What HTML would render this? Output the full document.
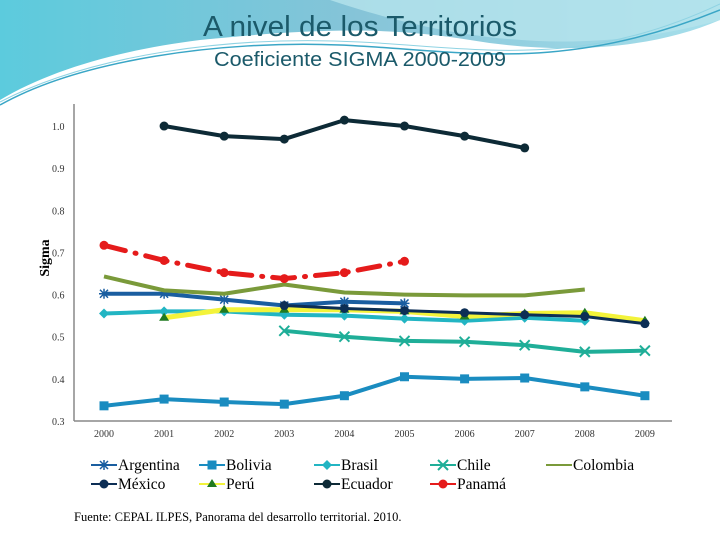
<!DOCTYPE html>
<html><head><meta charset="utf-8"><style>
body{margin:0;width:720px;height:540px;overflow:hidden;background:#fff;font-family:"Liberation Serif",serif}
svg{display:block}
</style></head><body>
<svg id="c" width="720" height="540">
<defs>
<linearGradient id="g1" x1="0" y1="0" x2="1" y2="0"><stop offset="0" stop-color="#5ccbdd"/><stop offset="0.5" stop-color="#86c4d8"/><stop offset="1" stop-color="#a6dfeb"/></linearGradient>
</defs>
<g>
<path d="M0,0 H720 V20 C650,50 560,55 470,40 C380,25 300,30 200,40 C120,50 50,70 0,100 Z" fill="url(#g1)"/>
<path d="M330,0 C420,30 560,65 720,20 V0 Z" fill="#b5e3ec" opacity="0.8"/>
<path d="M0,105 C80,60 220,40 340,45 C460,50 560,75 720,10" fill="none" stroke="#3aa6c6" stroke-width="1.5"/>
<path d="M0,102 C90,55 230,35 360,42 C480,48 580,70 720,4" fill="none" stroke="#8fd3e3" stroke-width="1"/>
</g>
<text x="360" y="36" text-anchor="middle" font-family="Liberation Sans, sans-serif" font-size="29" textLength="314" lengthAdjust="spacingAndGlyphs" fill="#1b5a6a">A nivel de los Territorios</text>
<text x="360" y="66" text-anchor="middle" font-family="Liberation Sans, sans-serif" font-size="20" textLength="292" lengthAdjust="spacingAndGlyphs" fill="#1b5a6a">Coeficiente SIGMA 2000-2009</text>
<line x1="74" y1="104" x2="74" y2="421" stroke="#888" stroke-width="1.5"/>
<line x1="74" y1="421" x2="672" y2="421" stroke="#888" stroke-width="1.5"/>
<text transform="translate(49,258) rotate(-90)" text-anchor="middle" font-size="14" font-weight="bold" fill="#000">Sigma</text>
<g id="yt"></g><g id="xt"></g><g id="series"></g><g id="legend"></g>
<text x="74" y="521" font-size="12.5" fill="#000">Fuente: CEPAL ILPES, Panorama del desarrollo territorial. 2010.</text>
</svg>
<script>
const years=[2000,2001,2002,2003,2004,2005,2006,2007,2008,2009];
const yTicks=[0.3,0.4,0.5,0.6,0.7,0.8,0.9,1.0];
const argentina=[0.602,0.602,0.588,0.574,0.583,0.579,null,null,null,null];
const bolivia=[0.336,0.352,0.345,0.340,0.360,0.405,0.400,0.402,0.381,0.360];
const brasil=[0.555,0.560,0.560,0.552,0.550,0.543,0.538,0.545,0.538,null];
const chile=[null,null,null,0.514,0.500,0.490,0.488,0.480,0.464,0.467];
const colombia=[0.643,0.610,0.602,0.624,0.605,0.600,0.598,0.598,0.612,null];
const mexico=[null,null,null,0.574,0.567,0.562,0.557,0.552,0.548,0.531];
const peru=[null,0.545,0.564,0.564,0.564,0.560,0.548,0.555,0.557,0.538];
const ecuador=[null,1.000,0.976,0.969,1.014,1.000,0.976,0.948,null,null];
const panama=[0.717,0.681,0.652,0.638,0.652,0.679,null,null,null,null];
const NS='http://www.w3.org/2000/svg';
const X=i=>104+i*60.1, Y=v=>421-(v-0.3)*421.4;
function mk(t,a,p){const e=document.createElementNS(NS,t);for(const k in a)e.setAttribute(k,a[k]);(p||document.getElementById('series')).appendChild(e);return e;}
const yt=document.getElementById('yt');
yTicks.forEach(v=>{const t=mk('text',{x:52,y:Y(v)+4,'font-size':10,fill:'#333'},yt);t.textContent=v.toFixed(1);

});
const xt=document.getElementById('xt');
years.forEach((y,i)=>{const t=mk('text',{x:X(i),y:437,'font-size':10,fill:'#333','text-anchor':'middle'},xt);t.textContent=y;

});
function marker(g,type,x,y,c,fill){
 if(type==='star'){mk('path',{d:`M${x-5},${y}h10M${x},${y-5}v10M${x-4},${y-4}l8,8M${x-4},${y+4}l8,-8`,stroke:c,'stroke-width':1.5},g);}
 else if(type==='x'){mk('path',{d:`M${x-5},${y-5}l10,10M${x-5},${y+5}l10,-10`,stroke:c,'stroke-width':2},g);}
 else if(type==='sq'){mk('rect',{x:x-4.5,y:y-4.5,width:9,height:9,fill:c},g);}
 else if(type==='dia'){mk('path',{d:`M${x},${y-5}l5,5l-5,5l-5,-5z`,fill:c},g);}
 else if(type==='tri'){mk('path',{d:`M${x},${y-5}l5,8h-10z`,fill:fill||c},g);}
 else if(type==='dot'){mk('circle',{cx:x,cy:y,r:4.5,fill:c},g);}
}
const defs=[
 ['argentina','Argentina',argentina,'#1a5ea0','star',4,null],
 ['bolivia','Bolivia',bolivia,'#1a8cc0','sq',4,null],
 ['brasil','Brasil',brasil,'#22b5c3','dia',4,null],
 ['chile','Chile',chile,'#1fae98','x',4,null],
 ['colombia','Colombia',colombia,'#7a9a3a','',4,null],
 ['peru','Perú',peru,'#f3f33a','tri',5,'#207a20'],
 ['mexico','México',mexico,'#0c2e55','dot',3,null],
 ['ecuador','Ecuador',ecuador,'#0d2a36','dot',4,null],
 ['panama','Panamá',panama,'#e51b1b','dot',5,null]
];
defs.forEach(([id,name,arr,c,m,w,mf])=>{
 const g=mk('g',{});
 
 
 const pts=[];arr.forEach((v,i)=>{if(v!=null)pts.push([X(i),Y(v)]);});
 const a={d:'M'+pts.map(p=>p.join(',')).join('L'),fill:'none',stroke:c,'stroke-width':w,'stroke-linejoin':'round'};
 if(id==='panama'){a['stroke-dasharray']='22,10,1,10';a['stroke-linecap']='round';}
 mk('path',a,g);
 pts.forEach(p=>marker(g,m,p[0],p[1],id==='peru'?mf:c));
});
const leg=document.getElementById('legend');
const L=[['argentina','Argentina','#1a5ea0','star',97,465],['bolivia','Bolivia','#1a8cc0','sq',205,465],['brasil','Brasil','#22b5c3','dia',320,465],['chile','Chile','#1fae98','x',436,465],['colombia','Colombia','#7a9a3a','',552,465],
['mexico','México','#0c2e55','dot',97,484],['peru','Perú','#f3f33a','tri',205,484],['ecuador','Ecuador','#0d2a36','dot',320,484],['panama','Panamá','#e51b1b','dot',436,484]];
L.forEach(([id,n,c,m,x,y])=>{const g=mk('g',{},leg);
 
 
 mk('line',{x1:x-6,y1:y,x2:x+20,y2:y,stroke:c,'stroke-width':2},g);
 if(m)marker(g,m,x+7,y,id==='peru'?'#207a20':c);
 const t=mk('text',{x:x+21,y:y+5,'font-size':15.5,fill:'#000'},g);t.textContent=n;});
</script>
</body></html>
